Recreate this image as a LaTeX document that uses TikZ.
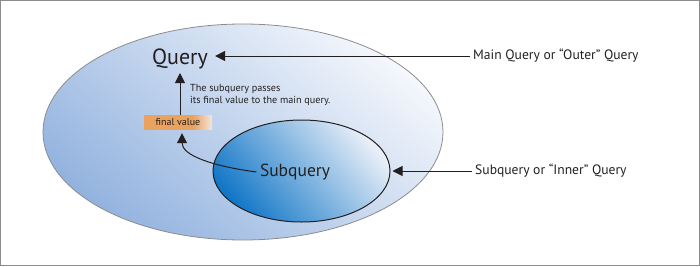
\documentclass[tikz,border=0pt]{standalone}
\usepackage{fontspec}
\setmainfont{PT Sans}
\usepackage{tikz}
\usetikzlibrary{arrows.meta,calc,shapes.geometric,positioning}
\definecolor{outerlight}{HTML}{F4F7FC}
\definecolor{outerdark}{HTML}{93B3DF}
\definecolor{innerlight}{HTML}{E9EFF8}
\definecolor{innermid}{HTML}{7AA2D9}
\definecolor{innerdark}{HTML}{1277C7}
\definecolor{fvorange}{HTML}{E9A25F}
\definecolor{inkgray}{HTML}{231F20}
\definecolor{framegray}{HTML}{8C8C8C}
\pgfdeclarehorizontalshading{fvfade}{100bp}{color(0bp)=(fvorange);
  color(25bp)=(fvorange); color(61bp)=(fvorange);
  color(75bp)=(fvorange!20!outerlight); color(100bp)=(fvorange!20!outerlight)}

\begin{document}
\begin{tikzpicture}[x=1pt, y=1pt,
    arr/.style={-{Triangle[length=10pt,width=10pt]}, line width=1pt, draw=inkgray},
    sidelbl/.style={font=\fontsize{13.6}{16}\selectfont, text=inkgray,
      anchor=west, inner sep=3pt}]
  \useasboundingbox (0,0) rectangle (700,266);
  \draw[framegray, line width=1pt] (0.5,0.5) rectangle (699.5,265.5);
  % Outer ellipse: main query
  \node[ellipse, draw=framegray, line width=0.8pt, inner sep=0pt,
    minimum width=400pt, minimum height=216pt,
    top color=outerlight, bottom color=outerdark, shading angle=-40]
    (outer) at (243,134) {};
  \node[font=\fontsize{22}{26}\selectfont, text=inkgray, anchor=base,
    inner sep=3pt] (query) at (180,202) {Query};
  % Inner ellipse: subquery
  \node[ellipse, draw=inkgray, line width=1pt, inner sep=0pt,
    minimum width=177pt, minimum height=102pt,
    top color=innerlight, middle color=innermid, bottom color=innerdark,
    shading angle=-50]
    (inner) at (301.5,95) {};
  \node[font=\fontsize{17.5}{20}\selectfont, text=inkgray]
    (subq) at (295,94) {Subquery};
  % Passed value
  \node[minimum width=68pt, minimum height=14pt, inner sep=0pt,
    shading=fvfade, font=\fontsize{10}{12}\selectfont, text=inkgray]
    (finalval) at (178,144) {final value};
  \node[font=\fontsize{10.2}{12}\selectfont, text=inkgray, align=left,
    anchor=west, inner sep=0pt]
    (note) at (190,171) {The subquery passes\\its final value to the main query.};
  \draw[arr] (finalval.north -| 180,0) -- (180,193);
  \draw[arr] (subq.west) .. controls +(-45,6) and +(0,-22) .. ($(finalval.south)+(4,-4)$);
  % Side labels
  \node[sidelbl] (mainlbl) at (470,210) {Main Query or “Outer” Query};
  \node[sidelbl] (innerlbl) at (472,95) {Subquery or “Inner” Query};
  \draw[arr, shorten >=4pt] (mainlbl.west) -- (mainlbl.west -| query.east);
  \draw[arr, shorten >=2pt] (innerlbl.west) -- (innerlbl.west -| inner.east);
\end{tikzpicture}
\end{document}
